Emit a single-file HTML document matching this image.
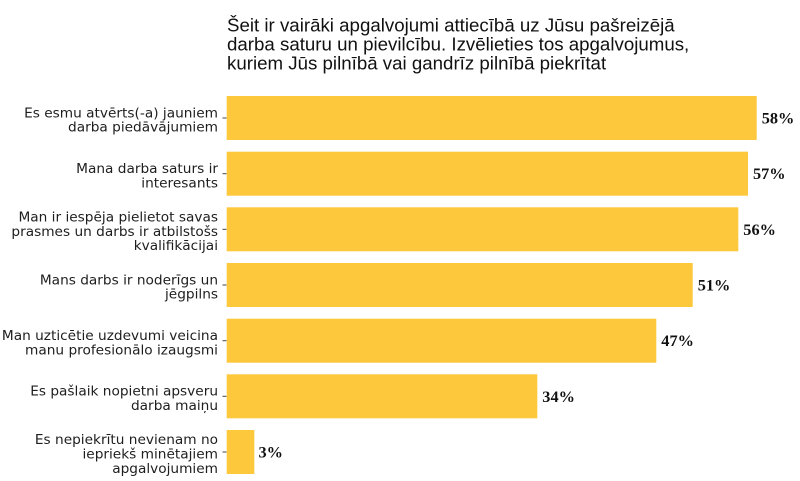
<!DOCTYPE html>
<html><head><meta charset="utf-8"><style>
html,body{margin:0;padding:0;background:#fff;}
svg{display:block;}
.t{font-family:"Liberation Sans",Arial,sans-serif;font-size:18.7px;fill:#111;}
.l{font-family:"DejaVu Sans","Liberation Sans",sans-serif;font-size:13.7px;fill:#1e1e1e;text-anchor:end;}
.v{font-family:"Liberation Serif","Times New Roman",serif;font-size:16.3px;font-weight:bold;fill:#111;}
.b{fill:#fec83c;}
.k{stroke:#444;stroke-width:1;}
</style></head><body>
<svg width="800" height="481" viewBox="0 0 800 481" xmlns="http://www.w3.org/2000/svg">
<rect width="800" height="481" fill="#fff"/>
<text class="t" x="227" y="31.5">Šeit ir vairāki apgalvojumi attiecībā uz Jūsu pašreizējā</text>
<text class="t" x="227" y="50.5">darba saturu un pievilcību. Izvēlieties tos apgalvojumus,</text>
<text class="t" x="227" y="69.3">kuriem Jūs pilnībā vai gandrīz pilnībā piekrītat</text>

<!-- bars -->
<rect class="b" x="226.7" y="96" width="530" height="44"/>
<rect class="b" x="226.7" y="151.7" width="521.3" height="44"/>
<rect class="b" x="226.7" y="207.3" width="511.6" height="44"/>
<rect class="b" x="226.7" y="263" width="466" height="44"/>
<rect class="b" x="226.7" y="318.7" width="429.6" height="44"/>
<rect class="b" x="226.7" y="374.3" width="310.6" height="44"/>
<rect class="b" x="226.7" y="430" width="27.6" height="44"/>

<!-- ticks -->
<line class="k" x1="222.5" x2="226.5" y1="118" y2="118"/>
<line class="k" x1="222.5" x2="226.5" y1="173.7" y2="173.7"/>
<line class="k" x1="222.5" x2="226.5" y1="229.3" y2="229.3"/>
<line class="k" x1="222.5" x2="226.5" y1="285" y2="285"/>
<line class="k" x1="222.5" x2="226.5" y1="340.7" y2="340.7"/>
<line class="k" x1="222.5" x2="226.5" y1="396.3" y2="396.3"/>
<line class="k" x1="222.5" x2="226.5" y1="452" y2="452"/>

<!-- labels -->
<text class="l" x="218" y="117.3">Es esmu atvērts(-a) jauniem</text>
<text class="l" x="218" y="131.7">darba piedāvājumiem</text>

<text class="l" x="218" y="173">Mana darba saturs ir</text>
<text class="l" x="218" y="187.4">interesants</text>

<text class="l" x="218" y="221.4">Man ir iespēja pielietot savas</text>
<text class="l" x="218" y="235.8">prasmes un darbs ir atbilstošs</text>
<text class="l" x="218" y="250.2">kvalifikācijai</text>

<text class="l" x="218" y="284.3">Mans darbs ir noderīgs un</text>
<text class="l" x="218" y="298.7">jēgpilns</text>

<text class="l" x="218" y="340">Man uzticētie uzdevumi veicina</text>
<text class="l" x="218" y="354.4">manu profesionālo izaugsmi</text>

<text class="l" x="218" y="395.6">Es pašlaik nopietni apsveru</text>
<text class="l" x="218" y="410">darba maiņu</text>

<text class="l" x="218" y="444.1">Es nepiekrītu nevienam no</text>
<text class="l" x="218" y="458.5">iepriekš minētajiem</text>
<text class="l" x="218" y="472.9">apgalvojumiem</text>

<!-- values -->
<text class="v" x="761.7" y="123.5">58%</text>
<text class="v" x="753" y="179.2">57%</text>
<text class="v" x="743.3" y="234.8">56%</text>
<text class="v" x="697.7" y="290.5">51%</text>
<text class="v" x="661.3" y="346.2">47%</text>
<text class="v" x="542.3" y="401.8">34%</text>
<text class="v" x="258.5" y="457.5">3%</text>
</svg>
</body></html>
